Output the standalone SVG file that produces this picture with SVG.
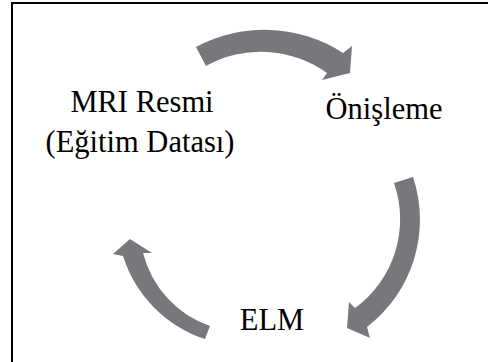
<svg xmlns="http://www.w3.org/2000/svg" width="488" height="362" viewBox="0 0 488 362">
<style>
.arr{fill:#77787b;stroke:none}
</style>
<rect width="488" height="362" fill="#fff"/>
<path d="M12,362 V3 H488" fill="none" stroke="#000" stroke-width="2"/>
<g id="connectors">
<path class="arr" d="M196,47 A145,145 0 0 1 343,53 L352,46 L350,73 L322,80 L327,73 A113,113 0 0 0 206,66 Z"/>
<path class="arr" d="M413,177 A135,135 0 0 1 367,327 L370,338 L347,328 L349,302 L355,308 A110,110 0 0 0 394,183 Z"/>
<path class="arr" d="M205,339 A128,128 0 0 1 123,256 L113,254 L130,239 L152,253 L143,253 A105,105 0 0 0 210,326 Z"/>
</g>
<g font-family="'Times New Roman', 'Liberation Serif', 'DejaVu Serif', Tinos, serif" font-size="30.5" fill="#000" text-anchor="middle">
<g id="node-mri">
<text x="142" y="112">MRI Resmi</text>
<text x="140" y="152">(Eğitim Datası)</text>
</g>
<g id="node-onisleme">
<text x="384" y="119">Önişleme</text>
</g>
<g id="node-elm">
<text x="272" y="330">ELM</text>
</g>
</g>
</svg>
